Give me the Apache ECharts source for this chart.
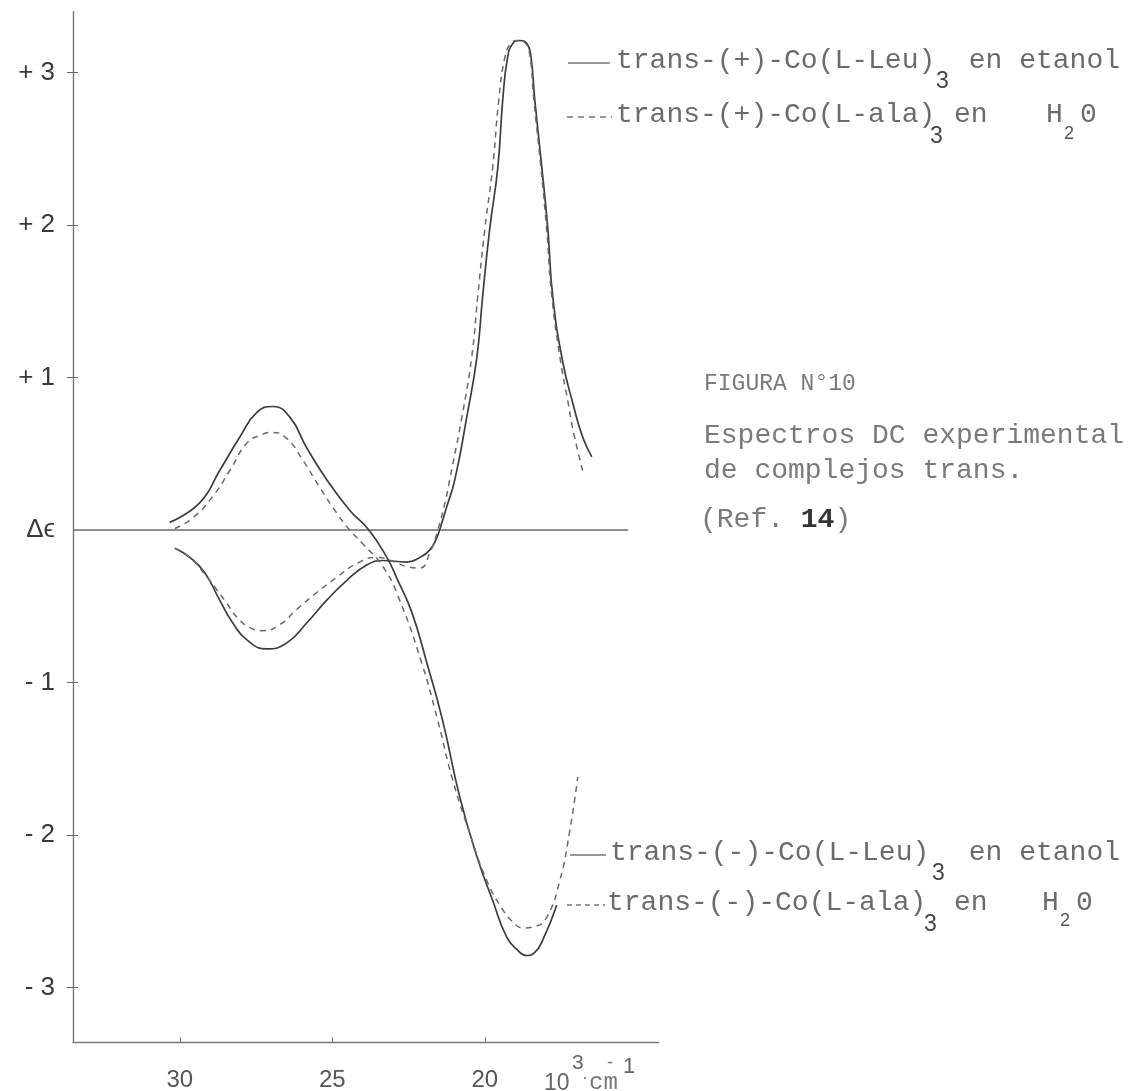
<!DOCTYPE html>
<html>
<head>
<meta charset="utf-8">
<script src="https://cdn.jsdelivr.net/npm/echarts@6/dist/echarts.min.js"></script>
<style>
html, body { margin: 0; padding: 0; background: #fff; }
#main { width: 1141px; height: 1091px; }
</style>
</head>
<body>
<div id="main"></div>
<script>
// --- datos (10^3 cm-1 , delta epsilon) ---
var plusLeuX = [30.16, 29.67, 29.18, 28.69, 28.26, 27.80, 27.15, 26.49, 25.84, 25.18, 24.52, 23.87, 23.34, 22.56, 22.13, 21.80, 21.57, 21.48, 21.25, 20.98, 20.59, 20.26, 20.07, 19.84, 19.57, 19.41, 19.25, 19.08, 18.85, 18.62, 18.49, 18.36, 18.13, 17.93, 17.77, 17.44, 17.11, 16.79, 16.49];
var plusLeuY = [-0.12, -0.18, -0.28, -0.46, -0.61, -0.72, -0.78, -0.74, -0.61, -0.46, -0.33, -0.23, -0.20, -0.21, -0.18, -0.13, -0.05, 0.00, 0.15, 0.33, 0.74, 1.13, 1.53, 1.97, 2.38, 2.82, 3.10, 3.19, 3.21, 3.19, 3.11, 2.82, 2.38, 1.97, 1.53, 1.10, 0.83, 0.61, 0.48];

var plusAlaX = [30.16, 29.67, 29.18, 28.79, 28.46, 28.13, 27.70, 27.28, 26.72, 26.16, 25.51, 24.85, 24.20, 23.54, 22.95, 22.56, 22.13, 21.80, 21.54, 21.28, 21.15, 20.75, 20.43, 20.23, 20.00, 19.74, 19.54, 19.34, 19.15, 18.92, 18.66, 18.52, 18.39, 18.16, 17.97, 17.80, 17.51, 17.28, 17.11, 16.79];
var plusAlaY = [-0.12, -0.18, -0.29, -0.39, -0.48, -0.57, -0.64, -0.66, -0.62, -0.52, -0.41, -0.31, -0.22, -0.18, -0.21, -0.24, -0.25, -0.15, 0.00, 0.20, 0.33, 0.74, 1.13, 1.53, 1.97, 2.38, 2.82, 3.10, 3.19, 3.21, 3.19, 3.11, 2.82, 2.38, 1.97, 1.53, 1.10, 0.85, 0.66, 0.39];

var minusLeuX = [30.33, 29.34, 28.69, 28.03, 27.48, 26.95, 26.39, 25.84, 25.18, 24.43, 23.80, 23.21, 22.85, 22.39, 21.90, 21.38, 20.82, 20.26, 19.74, 19.28, 18.95, 18.62, 18.36, 18.10, 17.64];
var minusLeuY = [0.05, 0.18, 0.39, 0.61, 0.77, 0.81, 0.74, 0.54, 0.33, 0.13, 0.00, -0.18, -0.33, -0.54, -0.87, -1.25, -1.75, -2.14, -2.43, -2.67, -2.75, -2.79, -2.77, -2.69, -2.46];

var minusAlaX = [30.16, 29.57, 28.92, 28.36, 27.80, 27.38, 26.95, 26.49, 25.97, 25.41, 24.85, 24.43, 24.00, 23.34, 22.85, 22.07, 21.54, 21.05, 20.49, 19.93, 19.41, 19.08, 18.75, 18.36, 17.97, 17.54, 17.21, 16.95];
var minusAlaY = [0.01, 0.08, 0.22, 0.39, 0.57, 0.62, 0.64, 0.60, 0.46, 0.28, 0.11, 0.00, -0.09, -0.24, -0.43, -0.87, -1.25, -1.64, -1.99, -2.30, -2.49, -2.57, -2.61, -2.60, -2.54, -2.30, -1.97, -1.62];

// linea de cero (dibujada a mano en el original)
var baseLineX = [33.5, 15.3];
var baseLineY = [0, 0];

var yTicks = [3, 2, 1, 0, -1, -2, -3];
var yTickLabels = ['+ 3', '+ 2', '+ 1', 'Δϵ', '- 1', '- 2', '- 3'];
var xTicks = [30, 25, 20];
var xTickLabels = ['30', '25', '20'];

function zip(xs, ys) {
    var out = [];
    for (var i = 0; i < xs.length; i++) {
        out.push([xs[i], ys[i]]);
    }
    return out;
}

var mono = '"Liberation Mono", "DejaVu Sans Mono", monospace';
var sans = '"Liberation Sans", Arial, sans-serif';
var txtGray = '#6b6b6b';

function txt(x, y, s, size, family, color, extra) {
    var el = {
        type: 'text',
        x: x,
        y: y,
        silent: true,
        style: {
            text: s,
            font: size + 'px ' + family,
            fill: color || txtGray,
            textAlign: 'left',
            textVerticalAlign: 'middle'
        }
    };
    if (extra) {
        for (var k in extra) el.style[k] = extra[k];
    }
    return el;
}

function seg(x1, y1, x2, y2, dash) {
    return {
        type: 'line',
        silent: true,
        shape: { x1: x1, y1: y1, x2: x2, y2: y2 },
        style: { stroke: '#777', lineWidth: 1.4, lineDash: dash || null }
    };
}

var graphics = [
    // leyenda superior
    seg(568, 63, 610, 63),
    txt(616, 61, 'trans-(+)-Co(L-Leu)', 28, mono),
    txt(936, 82, '3', 23, sans, '#444'),
    txt(952, 61, ' en etanol', 28, mono),
    seg(567, 117, 612, 117, [6, 5]),
    txt(616, 115, 'trans-(+)-Co(L-ala)', 28, mono),
    txt(930, 137, '3', 23, sans, '#444'),
    txt(954, 115, 'en', 28, mono),
    txt(1046, 115, 'H', 28, mono),
    txt(1064, 134, '2', 18, sans, '#555'),
    txt(1080, 115, '0', 28, mono),

    // leyenda inferior
    seg(570, 855, 606, 855),
    txt(610, 853, 'trans-(-)-Co(L-Leu)', 28, mono),
    txt(932, 874, '3', 23, sans, '#444'),
    txt(952, 853, ' en etanol', 28, mono),
    seg(567, 905, 605, 905, [5, 4]),
    txt(607, 903, 'trans-(-)-Co(L-ala)', 28, mono),
    txt(924, 925, '3', 23, sans, '#444'),
    txt(954, 903, 'en', 28, mono),
    txt(1042, 903, 'H', 28, mono),
    txt(1060, 921, '2', 18, sans, '#555'),
    txt(1076, 903, '0', 28, mono),

    // texto de la figura
    txt(704, 384, 'FIGURA N°10', 23, mono, '#7a7a7a'),
    txt(704, 436, 'Espectros DC experimental', 28, mono, '#7a7a7a'),
    txt(704, 471, 'de complejos trans.', 28, mono, '#7a7a7a'),
    {
        type: 'text', x: 700, y: 520, silent: true,
        style: {
            text: '(Ref. {b|14})',
            font: '28px ' + mono,
            fill: '#7a7a7a',
            textVerticalAlign: 'middle',
            rich: { b: { font: 'bold 28px ' + mono, fill: '#333' } }
        }
    },

    // unidad del eje x
    txt(544, 1084, '10', 23, sans, '#666'),
    txt(572, 1063, '3', 21, sans, '#666'),
    txt(582, 1078, '·', 18, sans, '#777'),
    txt(589, 1083, 'cm', 24, mono, '#777'),
    txt(607, 1063, '-', 18, sans, '#777'),
    txt(623, 1067, '1', 22, sans, '#666')
];

var solidStyle = { color: '#3d3d3d', width: 1.7, type: 'solid' };
var dashStyle = { color: '#6a6a6a', width: 1.5, type: [6, 5] };

var option = {
    animation: false,
    backgroundColor: '#fff',
    grid: {
        left: 73,
        top: 11.5,
        width: 585.6,
        height: 1030.9,
        containLabel: false,
        outerBoundsMode: 'none'
    },
    xAxis: [{
        type: 'value',
        inverse: true,
        min: 14.3,
        max: 33.5,
        axisLine: { onZero: false, lineStyle: { color: '#777', width: 1.4 } },
        axisTick: { show: true, inside: true, length: 5, customValues: xTicks, lineStyle: { color: '#777' } },
        axisLabel: {
            customValues: xTicks,
            margin: 26,
            fontSize: 24,
            fontFamily: sans,
            color: '#555',
            formatter: function (v) { return xTickLabels[xTicks.indexOf(v)] || ''; }
        },
        splitLine: { show: false }
    }],
    yAxis: [{
        type: 'value',
        position: 'left',
        min: -3.36,
        max: 3.4,
        axisLine: { show: true, onZero: false, lineStyle: { color: '#777', width: 1.4 } },
        axisTick: { show: true, length: 6, customValues: yTicks.filter(function (v) { return v !== 0; }), lineStyle: { color: '#666' } },
        axisLabel: {
            customValues: yTicks,
            margin: 18,
            fontSize: 26,
            fontFamily: sans,
            color: '#3a3a3a',
            formatter: function (v) { return yTickLabels[yTicks.indexOf(v)] || ''; }
        },
        splitLine: { show: false }
    }, {
        type: 'value',
        position: 'left',
        min: -3.36,
        max: 3.4,
        axisLine: { show: false, onZero: false },
        axisTick: { show: true, inside: true, length: 5, customValues: yTicks.filter(function (v) { return v !== 0; }), lineStyle: { color: '#666' } },
        axisLabel: { show: false },
        splitLine: { show: false }
    }],
    series: [
        {
            name: 'linea cero',
            type: 'line',
            data: zip(baseLineX, baseLineY),
            showSymbol: false,
            lineStyle: { color: '#6a6a6a', width: 1.3 },
            silent: true
        },
        {
            name: 'trans-(+)-Co(L-Leu)3 en etanol',
            type: 'line',
            data: zip(plusLeuX, plusLeuY),
            smooth: 0.5,
            showSymbol: false,
            lineStyle: solidStyle
        },
        {
            name: 'trans-(+)-Co(L-ala)3 en H2O',
            type: 'line',
            data: zip(plusAlaX, plusAlaY),
            smooth: 0.5,
            showSymbol: false,
            lineStyle: dashStyle
        },
        {
            name: 'trans-(-)-Co(L-Leu)3 en etanol',
            type: 'line',
            data: zip(minusLeuX, minusLeuY),
            smooth: 0.5,
            showSymbol: false,
            lineStyle: solidStyle
        },
        {
            name: 'trans-(-)-Co(L-ala)3 en H2O',
            type: 'line',
            data: zip(minusAlaX, minusAlaY),
            smooth: 0.5,
            showSymbol: false,
            lineStyle: dashStyle
        }
    ],
    graphic: graphics
};

var myChart = echarts.init(document.getElementById('main'));
myChart.setOption(option);
</script>
</body>
</html>
